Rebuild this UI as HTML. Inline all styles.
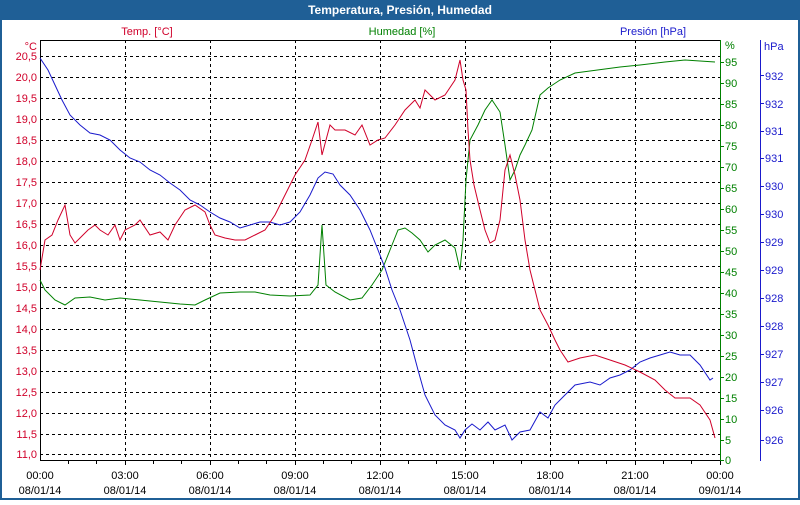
<!DOCTYPE html>
<html><head><meta charset="utf-8"><style>
body{margin:0;width:800px;height:500px;overflow:hidden;background:#fff;font-family:"Liberation Sans",sans-serif}
</style></head><body>
<svg width="800" height="500" xmlns="http://www.w3.org/2000/svg" font-family="Liberation Sans, sans-serif" font-size="11">
<rect x="0" y="0" width="800" height="500" fill="#1f5f96"/>
<rect x="2" y="20" width="796" height="478" fill="#fff"/>
<text x="400" y="14" fill="#fff" font-weight="bold" font-size="12" text-anchor="middle">Temperatura, Presión, Humedad</text>
<text x="147" y="35" fill="#d0002a" text-anchor="middle">Temp. [°C]</text>
<text x="402" y="35" fill="#008000" text-anchor="middle">Humedad [%]</text>
<text x="653" y="35" fill="#1a1acc" text-anchor="middle">Presión [hPa]</text>
<g stroke="#000" stroke-dasharray="3,3" stroke-width="1">
<line x1="125.5" y1="40" x2="125.5" y2="460"/><line x1="210.5" y1="40" x2="210.5" y2="460"/><line x1="295.5" y1="40" x2="295.5" y2="460"/><line x1="380.5" y1="40" x2="380.5" y2="460"/><line x1="465.5" y1="40" x2="465.5" y2="460"/><line x1="550.5" y1="40" x2="550.5" y2="460"/><line x1="635.5" y1="40" x2="635.5" y2="460"/>
<line x1="40" y1="56.5" x2="720" y2="56.5"/><line x1="40" y1="77.5" x2="720" y2="77.5"/><line x1="40" y1="98.5" x2="720" y2="98.5"/><line x1="40" y1="119.5" x2="720" y2="119.5"/><line x1="40" y1="140.5" x2="720" y2="140.5"/><line x1="40" y1="161.5" x2="720" y2="161.5"/><line x1="40" y1="182.5" x2="720" y2="182.5"/><line x1="40" y1="203.5" x2="720" y2="203.5"/><line x1="40" y1="224.5" x2="720" y2="224.5"/><line x1="40" y1="245.5" x2="720" y2="245.5"/><line x1="40" y1="266.5" x2="720" y2="266.5"/><line x1="40" y1="287.5" x2="720" y2="287.5"/><line x1="40" y1="308.5" x2="720" y2="308.5"/><line x1="40" y1="329.5" x2="720" y2="329.5"/><line x1="40" y1="350.5" x2="720" y2="350.5"/><line x1="40" y1="371.5" x2="720" y2="371.5"/><line x1="40" y1="392.5" x2="720" y2="392.5"/><line x1="40" y1="413.5" x2="720" y2="413.5"/><line x1="40" y1="434.5" x2="720" y2="434.5"/><line x1="40" y1="454.5" x2="720" y2="454.5"/>
</g>
<line x1="40" y1="40.5" x2="720" y2="40.5" stroke="#000"/>
<line x1="40.5" y1="40" x2="40.5" y2="461" stroke="#000"/>
<line x1="40" y1="460.5" x2="720" y2="460.5" stroke="#000"/>
<line x1="720.5" y1="40" x2="720.5" y2="461" stroke="#008000"/>
<line x1="760.5" y1="40" x2="760.5" y2="461" stroke="#1a1acc"/>
<g stroke="#000"><path d="M68.5 460v4M96.5 460v4M125.5 460v5M153.5 460v4M181.5 460v4M210.5 460v5M238.5 460v4M266.5 460v4M295.5 460v5M323.5 460v4M351.5 460v4M380.5 460v5M408.5 460v4M436.5 460v4M465.5 460v5M493.5 460v4M521.5 460v4M550.5 460v5M578.5 460v4M606.5 460v4M635.5 460v5M663.5 460v4M691.5 460v4M720.5 460v5"/></g>
<g fill="#d0002a" text-anchor="end">
<text x="37" y="50">°C</text>
<text x="37" y="60">20,5</text><text x="37" y="81">20,0</text><text x="37" y="102">19,5</text><text x="37" y="123">19,0</text><text x="37" y="144">18,5</text><text x="37" y="165">18,0</text><text x="37" y="186">17,5</text><text x="37" y="207">17,0</text><text x="37" y="228">16,5</text><text x="37" y="249">16,0</text><text x="37" y="270">15,5</text><text x="37" y="291">15,0</text><text x="37" y="312">14,5</text><text x="37" y="333">14,0</text><text x="37" y="354">13,5</text><text x="37" y="375">13,0</text><text x="37" y="396">12,5</text><text x="37" y="417">12,0</text><text x="37" y="438">11,5</text><text x="37" y="458">11,0</text>
</g>
<g fill="#008000"><path stroke="#008000" d="M720 62.5h4M720 83.5h4M720 104.5h4M720 125.5h4M720 146.5h4M720 167.5h4M720 188.5h4M720 209.5h4M720 230.5h4M720 251.5h4M720 272.5h4M720 293.5h4M720 314.5h4M720 335.5h4M720 356.5h4M720 377.5h4M720 398.5h4M720 419.5h4M720 440.5h4M720 460.5h4"/>
<text x="725" y="49">%</text>
<text x="725" y="66">95</text><text x="725" y="87">90</text><text x="725" y="108">85</text><text x="725" y="129">80</text><text x="725" y="150">75</text><text x="725" y="171">70</text><text x="725" y="192">65</text><text x="725" y="213">60</text><text x="725" y="234">55</text><text x="725" y="255">50</text><text x="725" y="276">45</text><text x="725" y="297">40</text><text x="725" y="318">35</text><text x="725" y="339">30</text><text x="725" y="360">25</text><text x="725" y="381">20</text><text x="725" y="402">15</text><text x="725" y="423">10</text><text x="725" y="444">5</text><text x="725" y="464">0</text>
</g>
<g fill="#1a1acc"><path stroke="#1a1acc" d="M761 75.5h3M761 103.5h3M761 131.5h3M761 158.5h3M761 186.5h3M761 214.5h3M761 242.5h3M761 270.5h3M761 298.5h3M761 326.5h3M761 354.5h3M761 382.5h3M761 410.5h3M761 440.5h3"/>
<text x="764" y="50">hPa</text>
<text x="765" y="80">932</text><text x="765" y="108">932</text><text x="765" y="135">931</text><text x="765" y="162">931</text><text x="765" y="190">930</text><text x="765" y="218">930</text><text x="765" y="246">929</text><text x="765" y="274">929</text><text x="765" y="302">928</text><text x="765" y="330">928</text><text x="765" y="358">927</text><text x="765" y="386">927</text><text x="765" y="414">926</text><text x="765" y="444">926</text>
</g>
<g fill="#000" text-anchor="middle">
<text x="40" y="479">00:00</text><text x="40" y="494">08/01/14</text>
<text x="125" y="479">03:00</text><text x="125" y="494">08/01/14</text>
<text x="210" y="479">06:00</text><text x="210" y="494">08/01/14</text>
<text x="295" y="479">09:00</text><text x="295" y="494">08/01/14</text>
<text x="380" y="479">12:00</text><text x="380" y="494">08/01/14</text>
<text x="465" y="479">15:00</text><text x="465" y="494">08/01/14</text>
<text x="550" y="479">18:00</text><text x="550" y="494">08/01/14</text>
<text x="635" y="479">21:00</text><text x="635" y="494">08/01/14</text>
<text x="720" y="479">00:00</text><text x="720" y="494">09/01/14</text>
</g>
<polyline fill="none" stroke="#008000" points="40,280 45,290 55,300 65,305 75,298 90,297 105,300 120,298 140,300 160,302 180,304 195,305 205,300 220,293 240,292 255,292 270,295 290,296 310,295 318,285 322,225 326,285 335,292 350,300 362,298 372,285 382,270 390,250 398,230 405,228 412,233 420,240 428,252 435,245 445,240 455,248 460,270 463,240 466,180 470,140 478,125 485,110 492,100 500,112 505,145 510,180 515,170 520,155 525,145 532,130 540,95 548,88 560,80 575,73 590,71 605,69 620,67 640,65 665,62 685,60 700,61 715,62"/>
<polyline fill="none" stroke="#1a1acc" points="40,58 48,70 55,85 62,100 70,115 80,125 90,133 100,135 110,140 120,150 130,158 140,162 150,170 160,175 170,183 180,190 190,200 200,205 210,212 220,218 230,222 240,228 250,225 260,222 270,222 280,225 290,222 300,212 310,195 318,178 325,172 333,174 340,185 350,195 360,210 370,230 378,250 385,268 392,290 400,310 410,340 418,370 425,395 435,415 445,425 455,430 460,438 465,430 472,424 480,430 488,422 495,430 505,425 512,440 520,432 530,430 540,412 548,418 555,405 565,395 575,385 590,382 600,385 610,378 620,375 630,370 640,362 650,358 660,355 670,352 680,355 690,355 700,365 710,380 713,378"/>
<polyline fill="none" stroke="#d0002a" points="40,270 45,240 52,235 58,220 65,205 70,235 75,243 80,238 88,230 95,225 100,230 108,235 115,225 120,240 125,230 135,225 140,220 150,235 160,232 168,240 175,225 185,210 195,205 205,212 210,225 215,235 225,238 235,240 245,240 255,235 265,230 275,215 285,195 295,175 305,160 312,140 318,122 322,155 326,140 330,125 335,130 345,130 355,135 362,125 370,145 378,140 385,138 395,125 405,110 415,100 420,108 425,90 435,100 445,95 455,80 460,60 463,80 466,90 468,130 470,160 474,185 480,210 485,230 490,243 495,240 500,220 505,170 510,155 515,175 520,200 525,240 530,270 535,290 540,310 548,325 555,340 560,350 568,362 580,358 595,355 610,360 625,365 640,372 655,380 665,390 675,398 690,398 700,405 710,420 715,438"/>
</svg>
</body></html>
